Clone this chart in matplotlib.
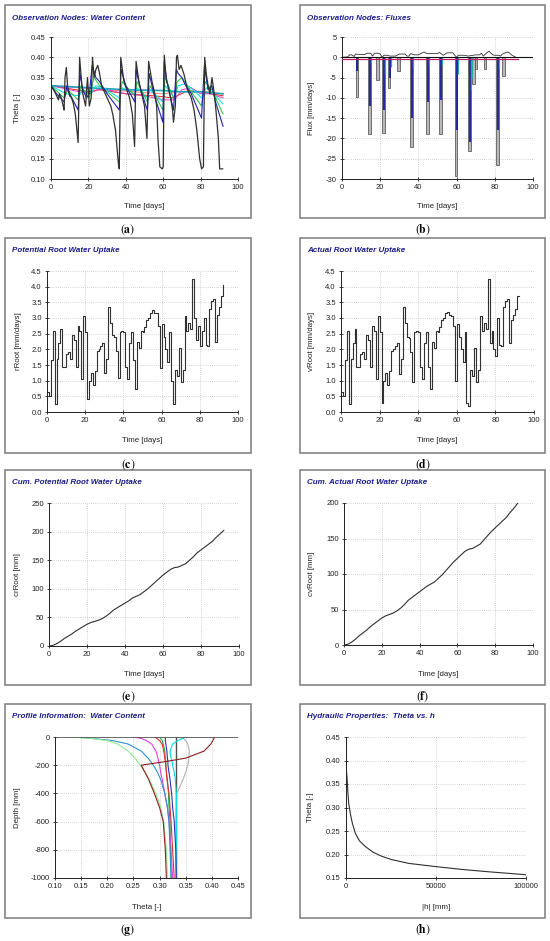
import matplotlib
matplotlib.use("Agg")
import matplotlib.pyplot as plt
from matplotlib.patches import Rectangle
import numpy as np

plt.rcParams['font.family'] = ['Liberation Sans', 'DejaVu Sans']
plt.rcParams['mathtext.fontset'] = 'stix'
plt.rcParams['axes.unicode_minus'] = False

W, H = 550, 941

# ---------------- data ----------------
# (a) observation nodes water content
wc_black_t = [0, 2, 3, 4, 4.5, 5.5, 6.5, 7, 7.5, 8.2, 9, 10, 11, 12, 13, 14.5, 15.3, 16.5, 17, 18.5, 19.5, 20.5,
              21.5, 22.2, 23, 24, 25, 26, 27, 28, 29, 30, 32, 33, 34.5, 36, 36.5, 37.3, 39, 40.5, 42, 43.5, 44.7,
              45.5, 47, 48.5, 50, 51.3, 52.2, 54, 55.5, 56.5, 57.2, 58.2, 59.5, 60, 60.6, 61.5, 62.5, 64, 65, 65.5,
              66.5, 67.1, 67.6, 68.5, 69.5, 71, 72, 73, 75, 76.5, 78, 79.5, 80.5, 81.5, 82.2, 83, 84, 85, 86.1, 87,
              88, 89.5, 90.2, 91.8]
wc_black_v = [0.33, 0.315, 0.305, 0.295, 0.31, 0.30, 0.28, 0.27, 0.35, 0.375, 0.32, 0.305, 0.30, 0.285, 0.26, 0.19,
              0.40, 0.33, 0.31, 0.28, 0.35, 0.28, 0.30, 0.40, 0.35, 0.37, 0.38, 0.36, 0.33, 0.32, 0.31, 0.30, 0.28,
              0.26, 0.22, 0.14, 0.125, 0.40, 0.34, 0.32, 0.30, 0.26, 0.18, 0.39, 0.34, 0.31, 0.28, 0.20, 0.39, 0.34,
              0.31, 0.28, 0.20, 0.13, 0.125, 0.13, 0.405, 0.35, 0.33, 0.30, 0.27, 0.24, 0.28, 0.40, 0.405, 0.37,
              0.38, 0.36, 0.34, 0.32, 0.30, 0.27, 0.22, 0.15, 0.125, 0.13, 0.40, 0.36, 0.33, 0.31, 0.35, 0.32,
              0.28, 0.20, 0.125, 0.125]
wc_blue_t = [0, 3, 7, 8.5, 10, 14.5, 15.5, 17, 19, 20.5, 22, 24, 26, 28, 30, 36.5, 37.5, 40, 44.8, 45.5, 48, 51.5,
             52.5, 55, 59.8, 60.5, 62, 65.5, 67, 68, 70, 72, 75, 80.5, 82, 84, 86, 88, 92]
wc_blue_v = [0.33, 0.31, 0.29, 0.33, 0.31, 0.27, 0.36, 0.32, 0.30, 0.31, 0.38, 0.35, 0.34, 0.325, 0.31, 0.27, 0.37,
             0.33, 0.29, 0.37, 0.32, 0.27, 0.36, 0.31, 0.24, 0.39, 0.34, 0.27, 0.37, 0.36, 0.35, 0.33, 0.31, 0.25,
             0.38, 0.32, 0.33, 0.29, 0.23]
wc_green_t = [0, 7, 9, 14.5, 16, 20.5, 23, 26, 30, 36.5, 38, 44.8, 46, 51.5, 53, 59.8, 61, 66, 67.5, 70, 75, 80.5,
              82.5, 86, 92]
wc_green_v = [0.33, 0.30, 0.32, 0.295, 0.33, 0.30, 0.35, 0.33, 0.315, 0.29, 0.34, 0.305, 0.34, 0.29, 0.33, 0.27,
              0.35, 0.295, 0.34, 0.35, 0.315, 0.28, 0.34, 0.32, 0.26]
wc_cyan_t = [0, 8, 15, 17, 21, 24, 28, 36.5, 38, 44.8, 46, 51.5, 53, 59.8, 61, 66, 68, 72, 76, 80.5, 83, 86, 92]
wc_cyan_v = [0.33, 0.31, 0.305, 0.32, 0.31, 0.33, 0.325, 0.30, 0.325, 0.31, 0.325, 0.30, 0.32, 0.29, 0.33, 0.30,
             0.33, 0.335, 0.32, 0.30, 0.325, 0.315, 0.285]
wc_mag_t = [0, 10, 20, 25, 30, 40, 50, 60, 66, 70, 75, 80, 85, 92]
wc_mag_v = [0.33, 0.32, 0.31, 0.32, 0.32, 0.31, 0.305, 0.295, 0.295, 0.32, 0.325, 0.31, 0.31, 0.30]
wc_red_t = [0, 20, 26, 40, 55, 65, 72, 80, 92]
wc_red_v = [0.33, 0.315, 0.32, 0.31, 0.305, 0.30, 0.315, 0.315, 0.305]
wc_teal_t = [0, 20, 40, 60, 70, 80, 92]
wc_teal_v = [0.33, 0.325, 0.32, 0.318, 0.315, 0.315, 0.31]
wc_pink_t = [0, 30, 60, 75, 92]
wc_pink_v = [0.33, 0.32, 0.31, 0.318, 0.31]

# (b) fluxes
flux_pos_t = [0, 3, 4, 5, 6.5, 7, 9, 12, 13, 15, 16, 17, 19, 20, 21, 22, 24, 25, 28, 30, 33, 34, 35, 36, 38, 40, 43,
              44, 46, 50, 51, 53, 55, 58, 58.5, 60, 61, 64, 66, 70, 72, 73, 74, 76, 77, 78, 79, 80, 82, 83, 84, 86,
              87, 89, 91]
flux_pos_v = [0, 0.1, 0.6, 0.6, 0.2, 0.8, 0.7, 0.7, 1.0, 1.0, 0.3, 1.0, 1.0, 0.8, 0, 0.5, 0.5, 0.3, 0.3, 0.8, 0.8,
              0.3, 0.3, 0.9, 0.6, 0.6, 1.3, 1.0, 0.9, 0.9, 1.2, 0.5, 1.1, 1.1, 0.8, 0, 0.5, 0.5, 0.3, 0.6, 0.6, 1.0,
              0.3, 1.2, 1.5, 1.0, 0.6, 0.5, 0.5, 0.3, 0.8, 1.2, 1.3, 0.5, 0]
flux_evt_day = [7.8, 14.4, 18.6, 21.7, 24.7, 29.6, 36.5, 44.7, 51.6, 59.7, 66.7, 68.9, 70.2, 74.8, 81.4, 84.5]
flux_evt_min = [-9.8, -19.0, -5.5, -18.7, -7.5, -3.5, -22.0, -18.8, -19.0, -29.2, -23.2, -6.5, -3.0, -3.0, -26.5, -4.5]
flux_blue_day = [8.0, 14.8, 22.0, 25.0, 36.9, 45.1, 52.0, 60.1, 67.1, 81.8]
flux_blue_min = [-3.5, -12.0, -13.0, -5.0, -15.0, -11.0, -10.5, -18.0, -21.0, -18.0]
flux_green_day = [15.2, 22.4, 25.4, 37.3, 45.4, 52.4, 60.5, 67.5, 68.3, 82.1]
flux_green_min = [-1.5, -4.0, -2.5, -2.5, -2.0, -2.0, -4.0, -8.0, -5.0, -3.0]

# (c)/(d) root water uptake, daily
days = list(range(0, 93))
rroot = [0.65, 0.5, 1.65, 2.6, 0.25, 1.7, 2.2, 2.65, 1.45, 1.45, 1.85, 1.9, 1.7, 2.45, 2.3, 1.45, 2.75, 2.6, 1.05,
         3.05, 2.55, 0.4, 1.0, 1.25, 0.85, 1.3, 1.95, 2.0, 2.1, 2.2, 1.25, 1.7, 3.35, 2.85, 2.45, 2.4, 1.95, 1.1,
         2.55, 2.6, 2.55, 1.45, 1.05, 2.2, 2.55, 1.65, 0.75, 2.25, 2.05, 2.6, 2.55, 2.7, 2.95, 3.0, 3.15, 3.25,
         3.15, 3.15, 2.75, 1.4, 2.8, 2.4, 2.0, 1.6, 2.55, 1.0, 0.25, 1.35, 1.15, 2.05, 0.95, 1.35, 3.05, 2.6, 2.85,
         2.65, 4.25, 3.0, 2.3, 2.75, 2.1, 2.6, 3.0, 2.15, 2.1, 3.3, 3.55, 3.6, 2.25, 3.1, 3.35, 3.7, 4.05]
vroot = [0.65, 0.5, 1.65, 2.6, 0.25, 1.7, 2.2, 2.65, 1.45, 1.45, 1.85, 1.9, 1.7, 2.45, 2.3, 1.45, 2.75, 2.6, 1.05,
         3.05, 2.55, 0.3, 1.0, 1.25, 0.85, 1.3, 1.95, 2.0, 2.1, 2.2, 1.2, 1.7, 3.35, 2.85, 2.4, 2.35, 1.9, 0.95,
         2.55, 2.6, 2.55, 1.45, 1.05, 2.2, 2.55, 1.45, 0.75, 2.25, 2.05, 2.6, 2.55, 2.7, 2.95, 3.0, 3.15, 3.2,
         3.1, 3.05, 2.75, 1.0, 2.8, 2.4, 2.0, 1.6, 2.55, 0.3, 0.2, 1.35, 1.15, 2.05, 0.95, 1.35, 3.05, 2.6, 2.85,
         2.65, 4.25, 2.2, 2.6, 2.0, 1.8, 3.0, 2.15, 2.1, 3.35, 3.55, 3.6, 2.2, 2.95, 3.1, 3.3, 3.7, 3.7]

# (e)/(f) cumulative uptake
cum_t = [0, 2, 4, 6, 8, 10, 12, 14, 16, 18, 20, 22, 24, 26, 28, 30, 32, 34, 36, 38, 40, 42, 44, 46, 48, 50, 52,
         54, 56, 58, 60, 62, 64, 66, 68, 70, 72, 74, 76, 78, 80, 82, 84, 86, 88, 90, 92]
cum_pot = [0, 1, 4, 8, 13, 17, 21, 26, 30, 34, 38, 41, 43, 45, 48, 52, 57, 63, 67, 71, 75, 79, 84, 87, 90, 95, 100,
           106, 112, 118, 124, 129, 134, 137, 138, 141, 144, 150, 156, 163, 168, 173, 178, 183, 190, 196, 202]
cum_act = [0, 1, 4, 8, 13, 17, 21, 26, 30, 34, 38, 41, 43, 45, 48, 52, 57, 63, 67, 71, 75, 79, 83, 86, 89, 94, 99,
           105, 111, 117, 122, 127, 132, 135, 136, 139, 142, 148, 154, 160, 165, 170, 175, 180, 187, 193, 200]

# (g) profile information
depth = [0, -10, -25, -50, -100, -150, -175, -200, -250, -300, -400, -500, -600, -800, -1000]
prof_brown = [0.405, 0.404, 0.402, 0.398, 0.385, 0.35, 0.31, 0.265, 0.272, 0.279, 0.29, 0.30, 0.307, 0.311, 0.313]
prof_lgreen = [0.13, 0.17, 0.20, 0.22, 0.24, 0.253, 0.258, 0.263, 0.272, 0.28, 0.293, 0.302, 0.308, 0.313, 0.315]
prof_sblue = [0.14, 0.17, 0.21, 0.24, 0.265, 0.278, 0.283, 0.288, 0.296, 0.302, 0.31, 0.315, 0.318, 0.32, 0.322]
prof_mag = [0.25, 0.265, 0.275, 0.285, 0.293, 0.297, 0.298, 0.30, 0.302, 0.305, 0.31, 0.315, 0.318, 0.322, 0.325]
prof_red = [0.29, 0.295, 0.30, 0.305, 0.308, 0.31, 0.311, 0.312, 0.313, 0.314, 0.318, 0.32, 0.322, 0.325, 0.328]
prof_green = [0.30, 0.302, 0.305, 0.307, 0.31, 0.311, 0.312, 0.312, 0.313, 0.315, 0.317, 0.318, 0.32, 0.321, 0.322]
prof_purple = [0.31, 0.311, 0.311, 0.312, 0.314, 0.315, 0.316, 0.316, 0.318, 0.32, 0.323, 0.325, 0.328, 0.331, 0.332]
prof_cyan = [0.35, 0.345, 0.335, 0.325, 0.32, 0.322, 0.324, 0.325, 0.328, 0.33, 0.332, 0.332, 0.332, 0.332, 0.332]
prof_gray = [0.333, 0.345, 0.35, 0.354, 0.357, 0.356, 0.355, 0.354, 0.35, 0.345, 0.333, 0.332, 0.332, 0.332, 0.332]
prof_init = [0.332] * len(depth)

# (h) retention curve
h_abs = [0, 0, 200, 550, 1000, 1500, 2500, 3500, 5200, 7500, 10700, 15000, 20000, 25500, 35000, 50500, 65000,
         80000, 100000]
theta_h = [0.45, 0.41, 0.38, 0.365, 0.335, 0.309, 0.285, 0.267, 0.245, 0.229, 0.217, 0.205, 0.196, 0.189, 0.181,
           0.174, 0.168, 0.163, 0.157]

# ---------------- layout ----------------
fig = plt.figure(figsize=(W / 100, H / 100), dpi=100)
fig.patch.set_facecolor('white')

TITLE_C = '#1c1c8a'
TICK_FS = 5.5
LAB_FS = 5.7


def fr(x0, y0, x1, y1):
    return [x0 / W, 1 - y1 / H, (x1 - x0) / W, (y1 - y0) / H]


def panel(box, axpx, title, letter, ylab, xlab, ylab_x, xlab_y):
    bx0, by0, bx1, by1 = box
    fig.add_artist(Rectangle((bx0 / W, 1 - by1 / H), (bx1 - bx0) / W, (by1 - by0) / H,
                             transform=fig.transFigure, fill=False, edgecolor='#7a7a7a', lw=1.1))
    fig.text((bx0 + 7) / W, 1 - (by0 + 13) / H, title, color=TITLE_C, fontsize=5.8,
             fontweight='bold', fontstyle='italic', va='center', ha='left')
    fig.text((bx0 + bx1) / 2 / W, 1 - (by1 + 11.5) / H, r'$(\mathbf{%s})$' % letter,
             fontsize=8.5, ha='center', va='center')
    ax = fig.add_axes(fr(*axpx))
    ax.set_facecolor('white')
    for s in ['top', 'right']:
        ax.spines[s].set_visible(False)
    for s in ['left', 'bottom']:
        ax.spines[s].set_color('#222222')
        ax.spines[s].set_linewidth(0.7)
    ax.tick_params(direction='inout', length=3.5, width=0.6, colors='#222222', labelsize=TICK_FS, pad=2)
    ax.grid(True, linestyle=(0, (1, 1.5)), color='#c4c4c4', lw=0.6)
    ax.set_axisbelow(True)
    ax.set_ylabel(ylab, fontsize=LAB_FS, color='#222222')
    ax.set_xlabel(xlab, fontsize=LAB_FS, color='#222222')
    ax0, ay0, ax1, ay1 = axpx
    ax.yaxis.set_label_coords((ylab_x - ax0) / (ax1 - ax0), 0.5)
    ax.xaxis.set_label_coords(0.5, (ay1 - xlab_y) / (ay1 - ay0))
    return ax


LBOX = (5, 251)
RBOX = (300, 545)
ROWS = [(5, 218), (238, 453), (470, 685), (704, 918)]

# (a)
ax = panel((LBOX[0], ROWS[0][0], LBOX[1], ROWS[0][1]), (51, 37, 238, 179),
           'Observation Nodes: Water Content', 'a', 'Theta [-]', 'Time [days]', 21, 203)
ax.plot(wc_pink_t, wc_pink_v, color='#ff8080', lw=0.7)
ax.plot(wc_red_t, wc_red_v, color='#e02020', lw=0.7)
ax.plot(wc_mag_t, wc_mag_v, color='#e040c0', lw=0.7)
ax.plot(wc_teal_t, wc_teal_v, color='#20a0c0', lw=1.2)
ax.plot(wc_cyan_t, wc_cyan_v, color='#00e0e0', lw=0.7)
ax.plot(wc_green_t, wc_green_v, color='#20c040', lw=0.7)
ax.plot(wc_blue_t, wc_blue_v, color='#2020b0', lw=0.8)
ax.plot(wc_black_t, wc_black_v, color='#303030', lw=0.9)
ax.set_xlim(0, 100)
ax.set_ylim(0.10, 0.45)
ax.set_xticks([0, 20, 40, 60, 80, 100])
ax.set_yticks(np.arange(0.10, 0.451, 0.05))
ax.yaxis.set_major_formatter(matplotlib.ticker.FormatStrFormatter('%.2f'))

# (b)
ax = panel((RBOX[0], ROWS[0][0], RBOX[1], ROWS[0][1]), (342, 37, 533, 179),
           'Observation Nodes: Fluxes', 'b', 'Flux [mm/days]', 'Time [days]', 315, 203)
ax.bar(flux_evt_day, flux_evt_min, width=1.3, color='#b8b8b8', edgecolor='#444444', lw=0.5, zorder=2)
ax.vlines(flux_blue_day, flux_blue_min, 0, color='#1a1aa0', lw=1.3, zorder=3)
ax.vlines(flux_green_day, flux_green_min, 0, color='#20b0a0', lw=0.9, zorder=3)
ax.plot([0, 92], [-0.3, -0.3], color='#c02060', lw=0.9, zorder=3)
ax.plot(flux_pos_t, flux_pos_v, color='#303030', lw=0.6, zorder=4)
ax.axhline(0, color='#111111', lw=0.8, zorder=4)
ax.set_xlim(0, 100)
ax.set_ylim(-30, 5)
ax.set_xticks([0, 20, 40, 60, 80, 100])
ax.set_yticks([5, 0, -5, -10, -15, -20, -25, -30])

# (c)
ax = panel((LBOX[0], ROWS[1][0], LBOX[1], ROWS[1][1]), (47, 271, 238, 412),
           'Potential Root Water Uptake', 'c', 'rRoot [mm/days]', 'Time [days]', 22, 437)
ax.plot(days, rroot, drawstyle='steps-post', color='#303030', lw=0.8)
ax.set_xlim(0, 100)
ax.set_ylim(0, 4.5)
ax.set_xticks([0, 20, 40, 60, 80, 100])
ax.set_yticks(np.arange(0, 4.51, 0.5))
ax.yaxis.set_major_formatter(matplotlib.ticker.FormatStrFormatter('%.1f'))

# (d)
ax = panel((RBOX[0], ROWS[1][0], RBOX[1], ROWS[1][1]), (341, 271, 534, 412),
           'Actual Root Water Uptake', 'd', 'vRoot [mm/days]', 'Time [days]', 315, 437)
ax.plot(days, vroot, drawstyle='steps-post', color='#303030', lw=0.8)
ax.set_xlim(0, 100)
ax.set_ylim(0, 4.5)
ax.set_xticks([0, 20, 40, 60, 80, 100])
ax.set_yticks(np.arange(0, 4.51, 0.5))
ax.yaxis.set_major_formatter(matplotlib.ticker.FormatStrFormatter('%.1f'))

# (e)
ax = panel((LBOX[0], ROWS[2][0], LBOX[1], ROWS[2][1]), (49, 503, 239, 646),
           'Cum. Potential Root Water Uptake', 'e', 'crRoot [mm]', 'Time [days]', 21, 671)
ax.plot(cum_t, cum_pot, color='#303030', lw=0.8)
ax.set_xlim(0, 100)
ax.set_ylim(0, 250)
ax.set_xticks([0, 20, 40, 60, 80, 100])
ax.set_yticks([0, 50, 100, 150, 200, 250])

# (f)
ax = panel((RBOX[0], ROWS[2][0], RBOX[1], ROWS[2][1]), (344, 503, 533, 645),
           'Cum. Actual Root Water Uptake', 'f', 'cvRoot [mm]', 'Time [days]', 315, 671)
ax.plot(cum_t, cum_act, color='#303030', lw=0.8)
ax.set_xlim(0, 100)
ax.set_ylim(0, 200)
ax.set_xticks([0, 20, 40, 60, 80, 100])
ax.set_yticks([0, 50, 100, 150, 200])

# (g)
ax = panel((LBOX[0], ROWS[3][0], LBOX[1], ROWS[3][1]), (55, 737, 238, 878),
           'Profile Information:  Water Content', 'g', 'Depth [mm]', 'Theta [-]', 21, 904)
ax.plot(prof_init, depth, color='#505050', lw=1.0)
ax.plot(prof_gray, depth, color='#b0b0b0', lw=0.8)
ax.plot(prof_cyan, depth, color='#00e0e0', lw=0.8)
ax.plot(prof_purple, depth, color='#3030c0', lw=0.8)
ax.plot(prof_green, depth, color='#20b040', lw=0.8)
ax.plot(prof_red, depth, color='#e03030', lw=0.8)
ax.plot(prof_mag, depth, color='#e040e0', lw=0.8)
ax.plot(prof_sblue, depth, color='#3090d0', lw=0.8)
ax.plot(prof_lgreen, depth, color='#90e890', lw=0.8)
ax.plot(prof_brown, depth, color='#8b2020', lw=0.8)
ax.axhline(0, color='#555555', lw=1.2)
ax.set_xlim(0.10, 0.45)
ax.set_ylim(-1000, 0)
ax.set_xticks(np.arange(0.10, 0.451, 0.05))
ax.xaxis.set_major_formatter(matplotlib.ticker.FormatStrFormatter('%.2f'))
ax.set_yticks([0, -200, -400, -600, -800, -1000])

# (h)
ax = panel((RBOX[0], ROWS[3][0], RBOX[1], ROWS[3][1]), (346, 737, 526, 878),
           'Hydraulic Properties:  Theta vs. h', 'h', 'Theta [-]', '|h| [mm]', 314, 904)
ax.plot(h_abs, theta_h, color='#303030', lw=0.8)
ax.set_xlim(0, 100000)
ax.set_ylim(0.15, 0.45)
ax.set_xticks([0, 50000, 100000])
ax.set_yticks(np.arange(0.15, 0.451, 0.05))
ax.yaxis.set_major_formatter(matplotlib.ticker.FormatStrFormatter('%.2f'))

fig.savefig('out.png', dpi=100, facecolor='white')
